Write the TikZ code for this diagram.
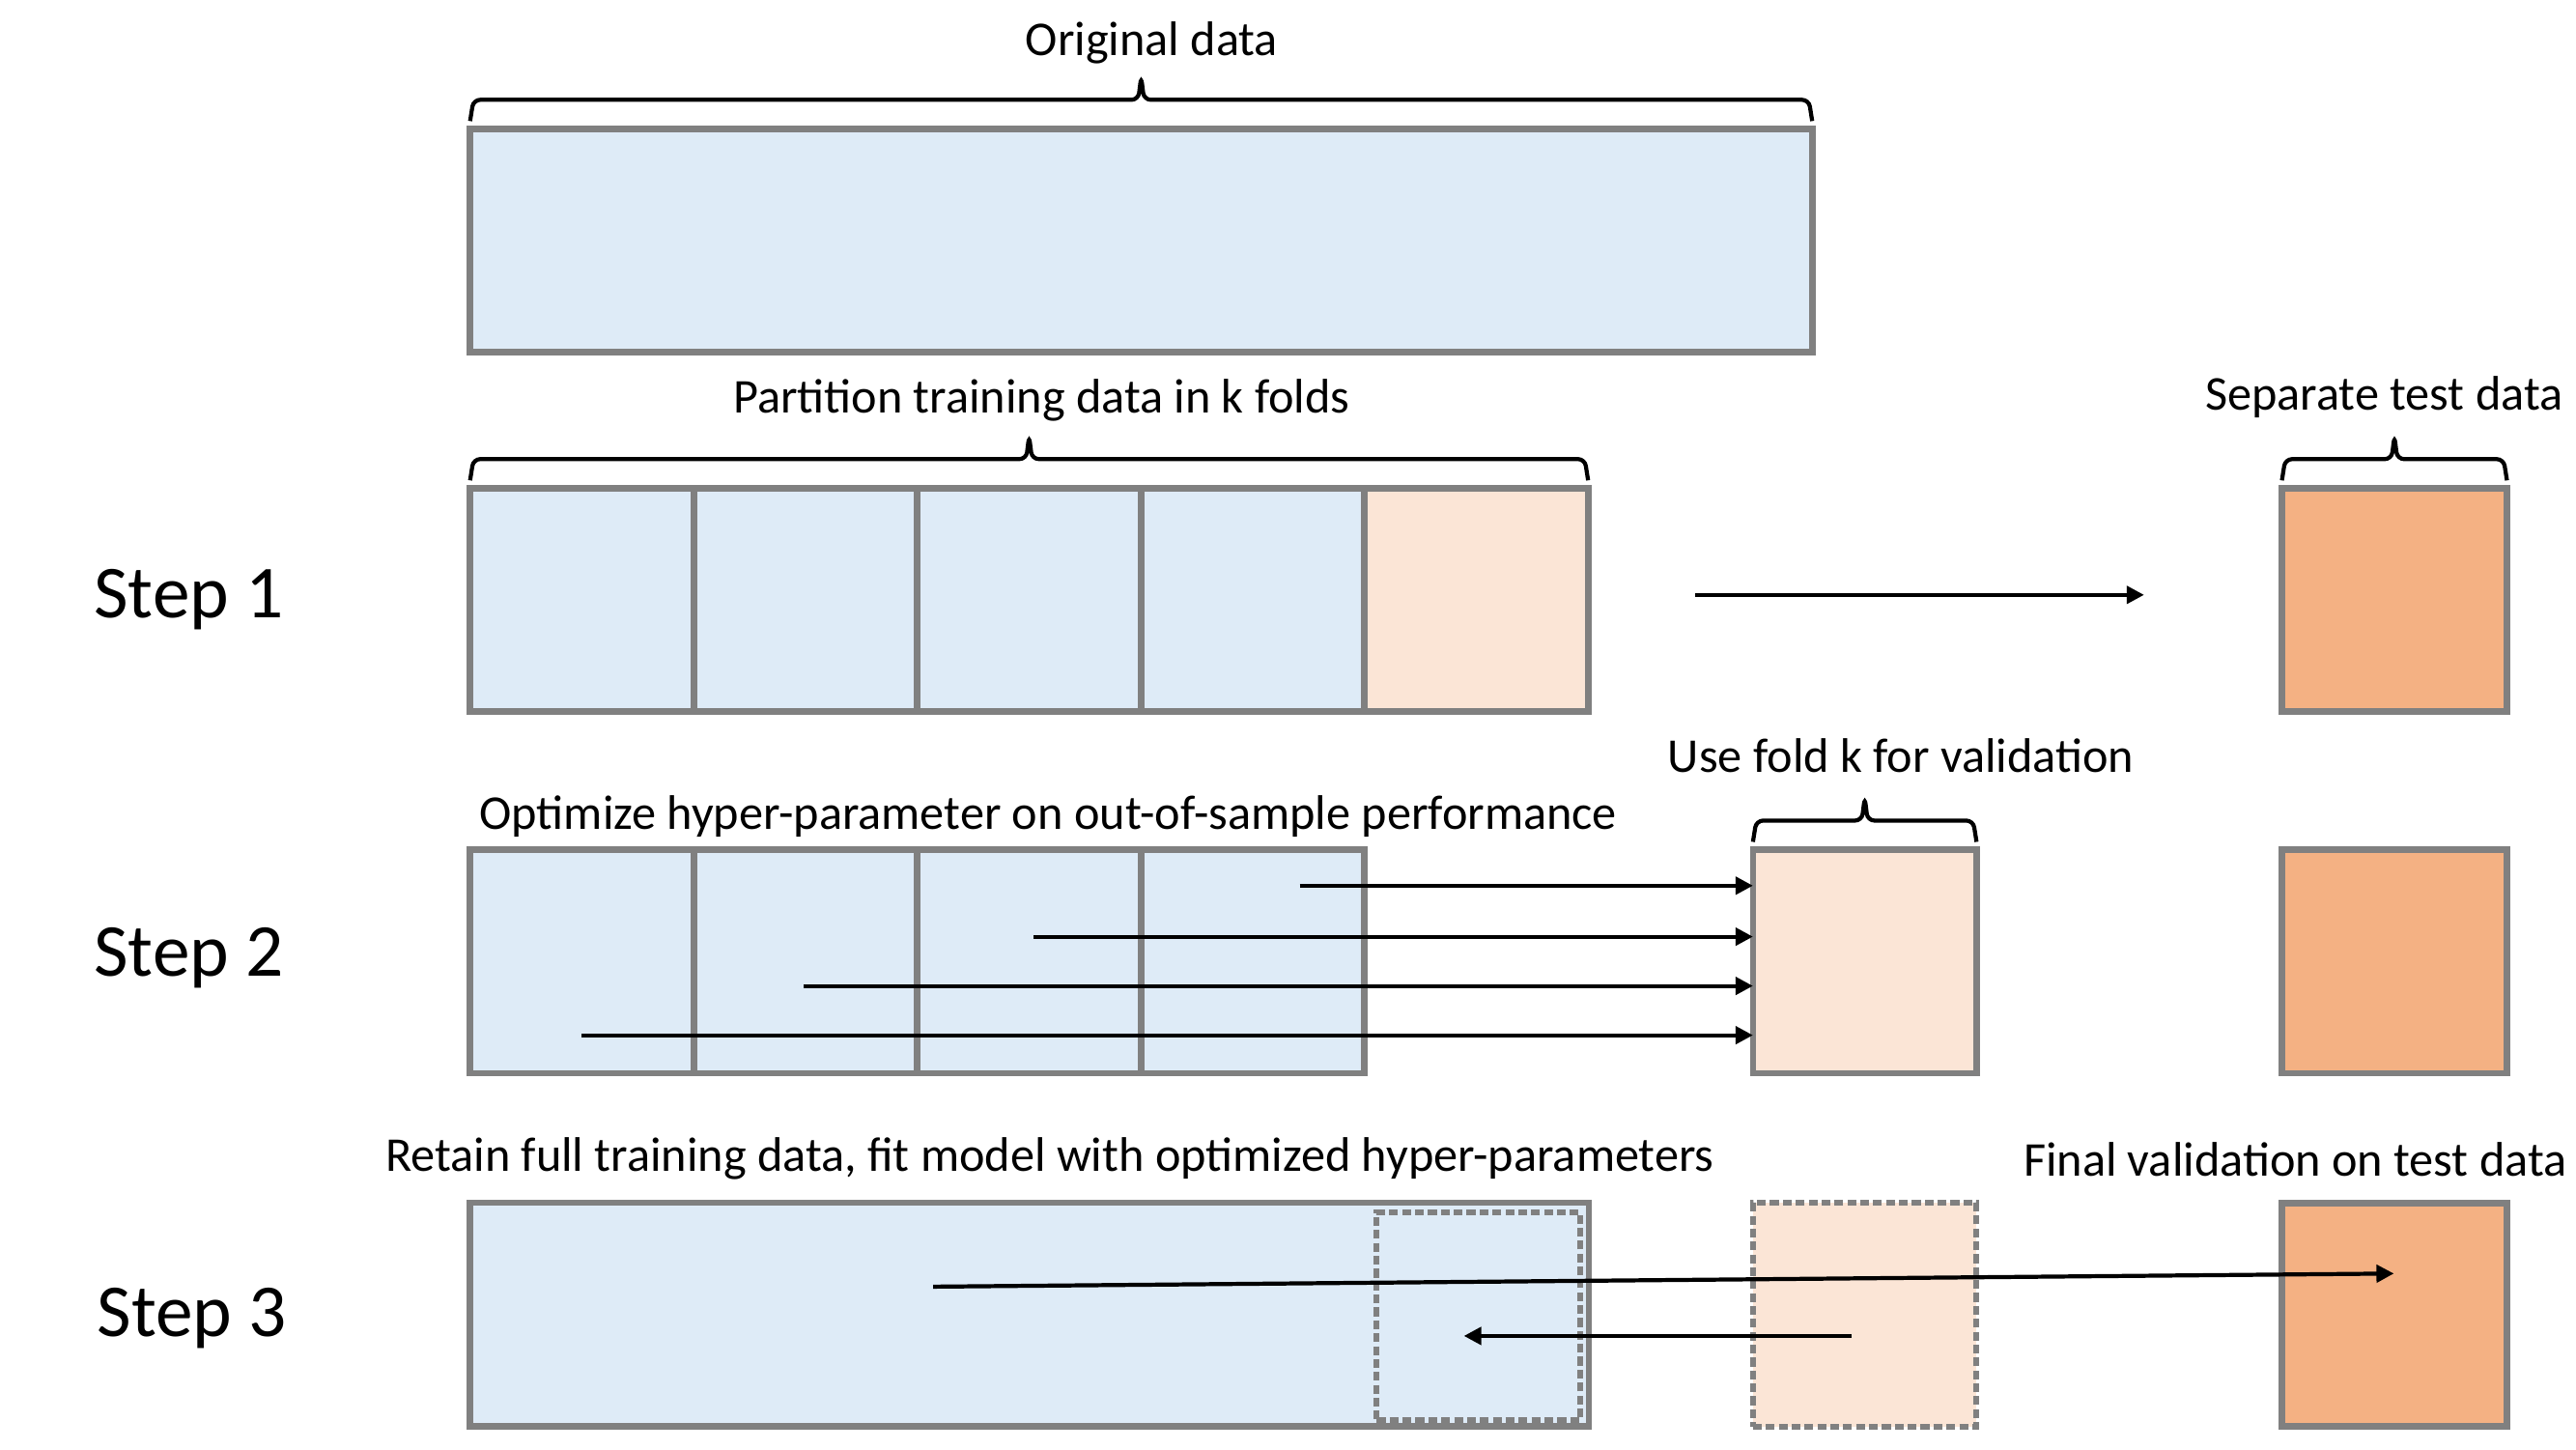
\documentclass[tikz,border=0pt]{standalone}
\usepackage{fontspec}
\setmainfont{Carlito}
\usepackage{tikz}
\usetikzlibrary{positioning,arrows.meta,calc}
\definecolor{trainblue}{RGB}{222,235,247}
\definecolor{valorange}{RGB}{251,229,214}
\definecolor{testorange}{RGB}{244,177,131}
\definecolor{boxgray}{RGB}{128,128,128}
\tikzstyle{databox} = [rectangle, draw=boxgray, line width=1.9pt, fill=trainblue, minimum width=2.315cm, minimum height=2.315cm, inner sep=0pt, outer sep=0pt]
\tikzstyle{valbox} = [databox, fill=valorange]
\tikzstyle{testbox} = [databox, fill=testorange, minimum width=2.33cm]
\tikzstyle{ghostbox} = [databox, line width=1.7pt, dash pattern=on 2.6pt off 1.2pt]
\tikzstyle{txt} = [font=\fontsize{14.3}{16}\selectfont, inner sep=0pt]
\tikzstyle{steptxt} = [font=\fontsize{22}{26}\selectfont, inner sep=0pt]
\tikzstyle{arrow} = [line width=1.2pt, -{Triangle[length=0.18cm, width=0.18cm]}]
\tikzstyle{curly} = [line width=1.2pt, rounded corners=2pt, to path={
  ($(\tikztostart)+(0,0.08)$) -- ($(\tikztostart)+(0.035,0.30)$)
  -- ($(\tikztostart)!0.5!(\tikztotarget)+(-0.03,0.30)$)
  -- ($(\tikztostart)!0.5!(\tikztotarget)+(0,0.54)$)
  -- ($(\tikztostart)!0.5!(\tikztotarget)+(0.03,0.30)$)
  -- ($(\tikztotarget)+(-0.035,0.30)$) -- ($(\tikztotarget)+(0,0.08)$)}]

\begin{document}
\begin{tikzpicture}

\useasboundingbox (0,0) rectangle (26.67,-15);

% Original data
\node [databox, minimum width=13.895cm, anchor=north west] (orig) at (4.867,-1.333) {};
\draw [curly] (orig.north west) to (orig.north east);
\node [txt] (origlbl) at (11.924,-0.44) {Original data};

% Step 1: k folds and separate test data
\node [steptxt] (step1) at (1.956,-6.21) {Step 1};
\node [databox, anchor=north west] (s1f1) at (4.867,-5.052) {};
\node [databox, right=0pt of s1f1] (s1f2) {};
\node [databox, right=0pt of s1f2] (s1f3) {};
\node [databox, right=0pt of s1f3] (s1f4) {};
\node [valbox, right=0pt of s1f4] (s1f5) {};
\node [testbox] (s1test) at (24.79,-6.21) {};
\draw [curly] (s1f1.north west) to (s1f5.north east);
\draw [curly] (s1test.north west) to (s1test.north east);
\node [txt] (foldlbl) at (10.784,-4.145) {Partition training data in k folds};
\node [txt] (testlbl) at (24.682,-4.11) {Separate test data};
\coordinate (sep1) at (17.554,-6.158);
\coordinate (sep2) at (22.198,-6.158);
\draw [arrow] (sep1) -- (sep2);

% Step 2: validation on fold k
\node [steptxt] (step2) at (1.956,-9.918) {Step 2};
\node [databox, anchor=north west] (s2f1) at (4.867,-8.794) {};
\node [databox, right=0pt of s2f1] (s2f2) {};
\node [databox, right=0pt of s2f2] (s2f3) {};
\node [databox, right=0pt of s2f3] (s2f4) {};
\node [valbox] (s2val) at (19.306,-9.952) {};
\node [testbox] (s2test) at (24.79,-9.952) {};
\draw [curly] (s2val.north west) to (s2val.north east);
\node [txt] (optlbl) at (10.852,-8.45) {Optimize hyper-parameter on out-of-sample performance};
\node [txt] (vallbl) at (19.681,-7.82) {Use fold k for validation};
\coordinate (opt1) at (13.455,-9.168);
\coordinate (opt2) at (10.699,-9.696);
\coordinate (opt3) at (8.318,-10.206);
\coordinate (opt4) at (6.022,-10.716);
\draw [arrow] (opt1) -- (opt1 -| s2val.west);
\draw [arrow] (opt2) -- (opt2 -| s2val.west);
\draw [arrow] (opt3) -- (opt3 -| s2val.west);
\draw [arrow] (opt4) -- (opt4 -| s2val.west);

% Step 3: refit and final test
\node [steptxt] (step3) at (1.990,-13.643) {Step 3};
\node [databox, minimum width=11.584cm, anchor=north west] (s3full) at (4.867,-12.451) {};
\node [ghostbox, fill=none, minimum width=2.110cm, minimum height=2.144cm] (s3inner) at (15.309,-13.625) {};
\node [ghostbox, fill=valorange] (s3val) at (19.306,-13.609) {};
\node [testbox] (s3test) at (24.79,-13.609) {};
\node [txt] (fitlbl) at (10.869,-11.99) {Retain full training data, fit model with optimized hyper-parameters};
\node [txt] (finallbl) at (23.763,-12.0) {Final validation on test data};
\coordinate (fit1) at (9.662,-13.319);
\coordinate (fit2) at (24.784,-13.183);
\draw [arrow] (fit1) -- (fit2);
\coordinate (ret1) at (19.170,-13.829);
\coordinate (ret2) at (15.156,-13.829);
\draw [arrow] (ret1) -- (ret2);

\end{tikzpicture}
\end{document}
